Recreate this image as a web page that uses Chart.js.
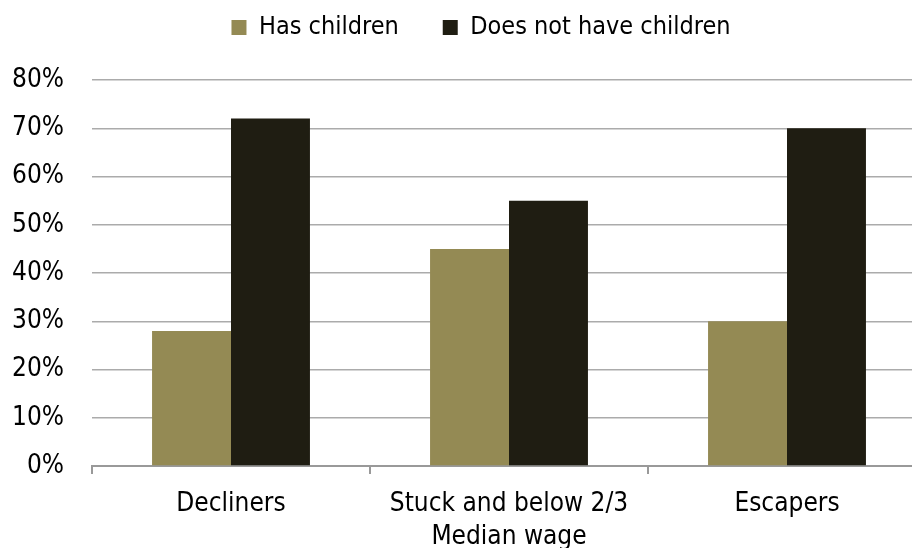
<!DOCTYPE html>
<html>
<head>
<meta charset="utf-8">
<script src="https://cdn.jsdelivr.net/npm/chart.js@4.4.0/dist/chart.umd.min.js"></script>
<style>
  html, body { margin: 0; padding: 0; background: #fff; overflow: hidden; }
  /* plot runs a little past the right edge in the original */
  #wrap { width: 926px; height: 548px; }
</style>
</head>
<body>
<div id="wrap"><canvas id="childrenChart"></canvas></div>
<script>
// Data
const categories = ['Decliners', ['Stuck and below 2/3', 'Median wage'], 'Escapers'];
const hasChildren = [28, 45, 30];
const noChildren = [72, 55, 70];
const seriesNames = ['Has children', 'Does not have children'];

const FONT = "'DejaVu Sans Condensed', 'DejaVu Sans', sans-serif";

// move the legend up and a bit right, like the original
const legendShift = {
    id: 'legendShift',
    afterLayout(chart) {
        const lg = chart.legend;
        lg.left += 18;
        lg.right += 18;
        lg.top -= 30;
        lg.bottom -= 30;
    }
};

const ctx = document.getElementById('childrenChart').getContext('2d');
const childrenChart = new Chart(ctx, {
    type: 'bar',
    data: {
        labels: categories,
        datasets: [{
            label: seriesNames[0],
            data: hasChildren,
            backgroundColor: '#948a54',
            borderWidth: 0
        }, {
            label: seriesNames[1],
            data: noChildren,
            backgroundColor: '#1f1d12',
            borderWidth: 0
        }]
    },
    options: {
        responsive: true,
        maintainAspectRatio: false,
        animation: false,
        categoryPercentage: 0.568,
        barPercentage: 1.0,
        layout: { padding: { top: 1, right: 0, left: 0, bottom: 0 } },
        plugins: {
            tooltip: { enabled: false },
            legend: {
                position: 'top',
                labels: {
                    boxWidth: 15,
                    boxHeight: 15,
                    padding: 44,
                    color: '#000',
                    font: { family: FONT, size: 25 }
                }
            }
        },
        scales: {
            y: {
                min: 0,
                max: 80,
                ticks: {
                    stepSize: 10,
                    padding: 28,
                    color: '#000',
                    font: { family: FONT, size: 26 },
                    callback: v => v + '%'
                },
                grid: { color: '#ababab', lineWidth: 1.5, drawTicks: false },
                border: { display: false },
                afterFit(scale) { scale.width = 92; }
            },
            x: {
                ticks: {
                    padding: 14,
                    color: '#000',
                    font: { family: FONT, size: 26, lineHeight: 1.27 }
                },
                grid: { drawOnChartArea: false, drawTicks: true, tickLength: 8, color: '#999', lineWidth: 2 },
                border: { color: '#999', width: 2 },
                afterFit(scale) { scale.height = 82; }
            }
        }
    },
    plugins: [legendShift]
});
</script>
</body>
</html>
